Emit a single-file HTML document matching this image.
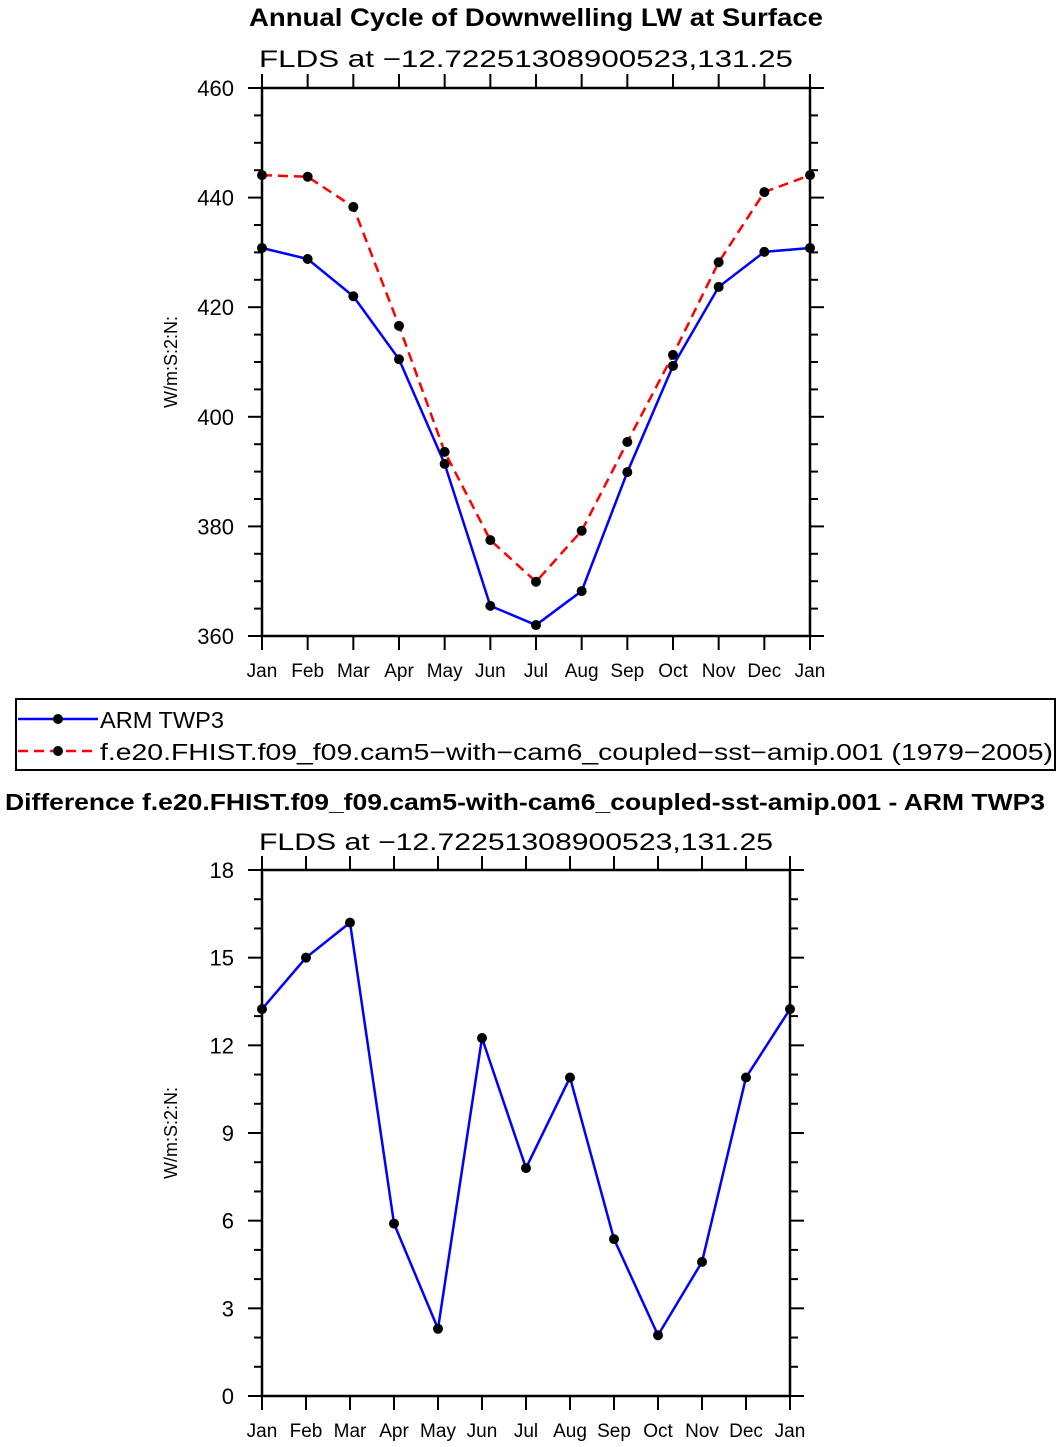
<!DOCTYPE html>
<html><head><meta charset="utf-8"><style>
body{margin:0;background:#fff;}
svg{display:block;font-family:"Liberation Sans","DejaVu Sans",sans-serif;}
.t{font-family:"Liberation Sans",sans-serif;font-weight:bold;}
</style></head><body>
<svg id="s" width="1062" height="1447" viewBox="0 0 1062 1447">
<text class="t" x="249" y="26" font-size="25" textLength="574" lengthAdjust="spacingAndGlyphs">Annual Cycle of Downwelling LW at Surface</text>
<text x="259" y="67" font-size="24" textLength="534" lengthAdjust="spacingAndGlyphs">FLDS at −12.72251308900523,131.25</text>
<text class="t" x="5" y="810" font-size="23" textLength="1040" lengthAdjust="spacingAndGlyphs">Difference f.e20.FHIST.f09_f09.cam5-with-cam6_coupled-sst-amip.001 - ARM TWP3</text>
<text x="259" y="850" font-size="24" textLength="514" lengthAdjust="spacingAndGlyphs">FLDS at −12.72251308900523,131.25</text>
<g>
<rect x="16" y="699" width="1039" height="71" fill="none" stroke="#000" stroke-width="2"/>
<g>
<line x1="18" y1="719" x2="98" y2="719" stroke="#00f" stroke-width="2.5"/>
<circle cx="58" cy="719" r="5"/>
<text x="100" y="728" font-size="23" textLength="124" lengthAdjust="spacingAndGlyphs">ARM TWP3</text></g>
<g>
<line x1="18" y1="751" x2="98" y2="751" stroke="#f00" stroke-width="2.5" stroke-dasharray="10,6"/>
<circle cx="58" cy="751" r="5"/>
<text x="100" y="760" font-size="23" textLength="953" lengthAdjust="spacingAndGlyphs">f.e20.FHIST.f09_f09.cam5−with−cam6_coupled−sst−amip.001 (1979−2005)</text></g>
</g>
</svg>
<script>
const months=["Jan","Feb","Mar","Apr","May","Jun","Jul","Aug","Sep","Oct","Nov","Dec","Jan"];
const armTop=[430.8,428.8,422.0,410.5,391.4,365.5,362.0,368.2,389.9,409.3,423.7,430.1,430.8];
const modelTop=[444.1,443.8,438.3,416.6,393.6,377.5,369.9,379.2,395.4,411.3,428.2,441.0,444.1];
const diffVals=[13.24,15.0,16.2,5.9,2.3,12.25,7.8,10.9,5.37,2.08,4.59,10.9,13.24];
const topTicks=[360,380,400,420,440,460];
const botTicks=[0,3,6,9,12,15,18];
const NS="http://www.w3.org/2000/svg";
const svg=document.getElementById('s');
function mk(tag,at,parent){const e=document.createElementNS(NS,tag);for(const k in at)e.setAttribute(k,at[k]);(parent||svg).appendChild(e);return e;}
function chart(name,L,R,T,B,ymin,ymax,ticks,minorStep,series){
  const g=mk('g',{});
  
  
  const xs=i=>L+(R-L)*i/(months.length-1);
  const ys=v=>B-(B-T)*(v-ymin)/(ymax-ymin);
  const ax=mk('rect',{x:L,y:T,width:R-L,height:B-T,fill:'none',stroke:'#000','stroke-width':2.5},g);
  
  
  for(let v=ymin;v<=ymax+1e-9;v+=minorStep){
    const maj=ticks.some(t=>Math.abs(t-v)<1e-6);const len=maj?14:8;const y=ys(v);
    mk('line',{x1:L-len,y1:y,x2:L,y2:y,stroke:'#000','stroke-width':2},g);
    mk('line',{x1:R,y1:y,x2:R+len,y2:y,stroke:'#000','stroke-width':2},g);
  }
  ticks.forEach(t=>{const tx=mk('text',{x:L-28,y:ys(t)+8,'font-size':22,'text-anchor':'end'},g);tx.textContent=t;
    
    });
  months.forEach((m,i)=>{const x=xs(i);
    mk('line',{x1:x,y1:B,x2:x,y2:B+14,stroke:'#000','stroke-width':2},g);
    mk('line',{x1:x,y1:T-14,x2:x,y2:T,stroke:'#000','stroke-width':2},g);
    const tx=mk('text',{x:x,y:B+41,'font-size':19,'text-anchor':'middle'},g);tx.textContent=m;
    
    });
  const yt=mk('text',{x:0,y:0,'font-size':18,'text-anchor':'middle',transform:`translate(${L-85},${(T+B)/2}) rotate(-90)`},g);
  yt.textContent='W/m:S:2:N:';
  
  
  series.forEach(s=>{
    const p=mk('polyline',{points:s.vals.map((v,i)=>xs(i)+','+ys(v)).join(' '),fill:'none',stroke:s.color,'stroke-width':2.5,'stroke-dasharray':s.dash||'none'},g);
    
    
    s.vals.forEach((v,i)=>{const c=mk('circle',{cx:xs(i),cy:ys(v),r:5,fill:'#000'},g);
      
      });
  });
}
chart('top-chart',262,810,88,636,360,460,topTicks,5,[
  {name:'arm-twp3',vals:armTop,color:'#00f'},
  {name:'model',vals:modelTop,color:'#f00',dash:'10,6'}]);
chart('bottom-chart',262,790,870,1396,0,18,botTicks,1,[
  {name:'difference',vals:diffVals,color:'#00f'}]);
</script>
</body></html>
